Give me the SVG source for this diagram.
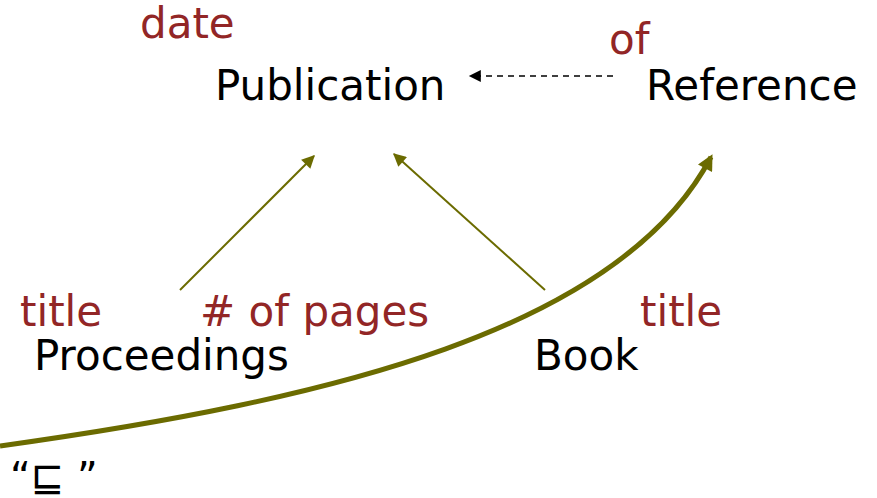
<svg xmlns="http://www.w3.org/2000/svg" width="877" height="498" viewBox="0 0 877 498">
  <style>
    .cls { font-family: "DejaVu Sans", Verdana, sans-serif; font-size: 42px; fill: #000; }
    .attr { font-family: "DejaVu Sans", Verdana, sans-serif; font-size: 42px; fill: #922626; }
    .isa { stroke: #6b6b00; stroke-width: 2; fill: none; }
    .sub { stroke: #6b6b00; stroke-width: 5; fill: none; }
    .ref { stroke: #000; stroke-width: 1.5; stroke-dasharray: 6 5; fill: none; }
  </style>
  <defs>
    <marker id="olive-head" viewBox="0 0 10 10" refX="9" refY="5" markerWidth="15" markerHeight="13" markerUnits="userSpaceOnUse" orient="auto">
      <path d="M0,0 L10,5 L0,10 Z" fill="#6b6b00"/>
    </marker>
    <marker id="olive-head-lg" viewBox="0 0 10 10" refX="8" refY="5" markerWidth="17" markerHeight="16" markerUnits="userSpaceOnUse" orient="auto">
      <path d="M0,0 L10,5 L0,10 Z" fill="#6b6b00"/>
    </marker>
    <marker id="black-head" viewBox="0 0 10 10" refX="9" refY="5" markerWidth="15" markerHeight="12" markerUnits="userSpaceOnUse" orient="auto">
      <path d="M0,0 L10,5 L0,10 Z" fill="#000"/>
    </marker>
  </defs>
  <rect width="877" height="498" fill="#fff"/>

  <g id="connectors">
    <path class="ref" d="M613,76 L470,76" marker-end="url(#black-head)"/>
    <path class="isa" d="M180,290 L314,156" marker-end="url(#olive-head)"/>
    <path class="isa" d="M545,290 L394,154" marker-end="url(#olive-head)"/>
    <path class="sub" d="M0,446 C330,400 620,330 711,157" marker-end="url(#olive-head-lg)"/>
  </g>

  <g id="publication">
    <text class="attr" x="140" y="38">date</text>
    <text class="cls" x="215" y="100">Publication</text>
  </g>
  <g id="reference">
    <text class="attr" x="609" y="54">of</text>
    <text class="cls" x="646" y="100">Reference</text>
  </g>
  <g id="proceedings">
    <text class="attr" x="20" y="326">title</text>
    <text class="attr" x="200" y="326"># of pages</text>
    <text class="cls" x="34" y="370">Proceedings</text>
  </g>
  <g id="book">
    <text class="attr" x="640" y="326">title</text>
    <text class="cls" x="534" y="370">Book</text>
  </g>
  <g id="subsumption">
    <text class="cls" x="10" y="491" style="font-size:40px">“⊑ ”</text>
  </g>
</svg>
